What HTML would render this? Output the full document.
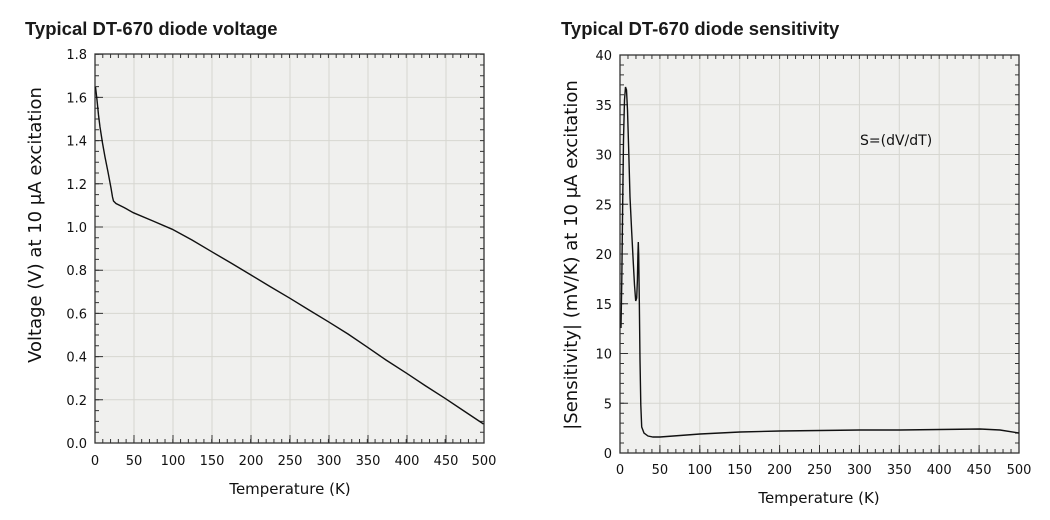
<!DOCTYPE html>
<html><head><meta charset="utf-8"><style>
html,body{margin:0;padding:0;background:#fff;width:1050px;height:520px;overflow:hidden}
svg{display:block}
.t{font-family:"Liberation Sans",Arial,sans-serif;font-weight:bold;font-size:18.5px;fill:#1a1a1a}
.k{font-family:"DejaVu Sans",sans-serif;font-size:13px;fill:#111}
.a{font-family:"DejaVu Sans",sans-serif;font-size:15px;fill:#111}
.y{font-family:"DejaVu Sans",sans-serif;font-size:18px;fill:#111}
</style></head><body>
<svg width="1050" height="520" viewBox="0 0 1050 520">
<text class="t" x="25" y="35">Typical DT-670 diode voltage</text>
<text class="t" x="561" y="35">Typical DT-670 diode sensitivity</text>

<!-- LEFT -->
<rect x="95" y="54" width="389" height="389" fill="#f0f0ee"/>
<g stroke="#d6d6d0" stroke-width="1">
<path d="M134 54V443M173 54V443M212 54V443M251 54V443M290 54V443M329 54V443M368 54V443M407 54V443M446 54V443"/>
<path d="M95 399.8H484M95 356.6H484M95 313.4H484M95 270.2H484M95 227H484M95 183.8H484M95 140.6H484M95 97.4H484"/>
</g>
<g stroke="#333" fill="none">
<line x1="95" y1="441" x2="484" y2="441" stroke-width="4" stroke-dasharray="1 6.78" stroke-dashoffset="0.5"/>
<line x1="95" y1="56" x2="484" y2="56" stroke-width="4" stroke-dasharray="1 6.78" stroke-dashoffset="0.5"/>
<line x1="97" y1="443" x2="97" y2="54" stroke-width="4" stroke-dasharray="1 9.8" stroke-dashoffset="0.5"/>
<line x1="482" y1="443" x2="482" y2="54" stroke-width="4" stroke-dasharray="1 9.8" stroke-dashoffset="0.5"/>
<line x1="95" y1="439" x2="484" y2="439" stroke-width="8" stroke-dasharray="1 38" stroke-dashoffset="0.5"/>
<line x1="99" y1="443" x2="99" y2="54" stroke-width="8" stroke-dasharray="1 42.2" stroke-dashoffset="0.5"/>
<rect x="95" y="54" width="389" height="389" stroke-width="1.3"/>
</g>
<polyline fill="none" stroke="#111" stroke-width="1.4" points="95.5,87 97,100 98.5,115 100,127 102.5,143 105,157 108,172 111,188 112.5,197 113.5,201 116,203.5 124,207.5 133.3,212.7 153,221 172.3,229.3 192,240 211.7,251.7 231,263 251,275 270,286.5 290,298.3 309,310 328.3,321.7 348,334 366.7,346.7 386,360 406.7,373.3 425,385.5 445,398.3 464,411 483.5,424"/>
<g class="k" text-anchor="end">
<text x="87" y="448">0.0</text><text x="87" y="404.8">0.2</text><text x="87" y="361.6">0.4</text><text x="87" y="318.4">0.6</text><text x="87" y="275.2">0.8</text><text x="87" y="232">1.0</text><text x="87" y="188.8">1.2</text><text x="87" y="145.6">1.4</text><text x="87" y="102.4">1.6</text><text x="87" y="59.2">1.8</text>
</g>
<g class="k" text-anchor="middle">
<text x="95" y="465">0</text><text x="134" y="465">50</text><text x="173" y="465">100</text><text x="212" y="465">150</text><text x="251" y="465">200</text><text x="290" y="465">250</text><text x="329" y="465">300</text><text x="368" y="465">350</text><text x="407" y="465">400</text><text x="446" y="465">450</text><text x="484" y="465">500</text>
</g>
<text class="a" x="290" y="494" text-anchor="middle">Temperature (K)</text>
<text class="y" transform="translate(41,225) rotate(-90)" text-anchor="middle">Voltage (V) at 10 μA excitation</text>

<!-- RIGHT -->
<rect x="620" y="55" width="399" height="398" fill="#f0f0ee"/>
<g stroke="#d6d6d0" stroke-width="1">
<path d="M659.9 55V453M699.8 55V453M739.7 55V453M779.6 55V453M819.5 55V453M859.4 55V453M899.3 55V453M939.2 55V453M979.1 55V453"/>
<path d="M620 403.25H1019M620 353.5H1019M620 303.75H1019M620 254H1019M620 204.25H1019M620 154.5H1019M620 104.75H1019"/>
</g>
<g stroke="#333" fill="none">
<line x1="620" y1="451" x2="1019" y2="451" stroke-width="4" stroke-dasharray="1 6.98" stroke-dashoffset="0.5"/>
<line x1="620" y1="57" x2="1019" y2="57" stroke-width="4" stroke-dasharray="1 6.98" stroke-dashoffset="0.5"/>
<line x1="622" y1="453" x2="622" y2="55" stroke-width="4" stroke-dasharray="1 8.95" stroke-dashoffset="0.5"/>
<line x1="1017" y1="453" x2="1017" y2="55" stroke-width="4" stroke-dasharray="1 8.95" stroke-dashoffset="0.5"/>
<line x1="620" y1="449" x2="1019" y2="449" stroke-width="8" stroke-dasharray="1 38.9" stroke-dashoffset="0.5"/>
<line x1="624" y1="453" x2="624" y2="55" stroke-width="8" stroke-dasharray="1 48.75" stroke-dashoffset="0.5"/>
<rect x="620" y="55" width="399" height="398" stroke-width="1.3"/>
</g>
<polyline fill="none" stroke="#111" stroke-width="1.4" points="621,328 621.8,280 622.6,210 623.5,140 624.5,100 625.5,87 626.5,90 627.5,110 628.7,150 630,197 631.7,232 633.3,263 634.5,285 635.7,301 636.7,298 637.4,280 637.9,255 638.3,242 638.7,255 639.3,300 640,360 640.8,405 641.7,427 644,433 648,436 653,437 660,437 700,434 740,432 780,431 820,430.5 860,430 900,430 940,429.5 980,429 1000,430 1019,433"/>
<g class="k" text-anchor="end">
<text x="612" y="458">0</text><text x="612" y="408.25">5</text><text x="612" y="358.5">10</text><text x="612" y="308.75">15</text><text x="612" y="259">20</text><text x="612" y="209.25">25</text><text x="612" y="159.5">30</text><text x="612" y="109.75">35</text><text x="612" y="60">40</text>
</g>
<g class="k" text-anchor="middle">
<text x="620" y="474">0</text><text x="659.9" y="474">50</text><text x="699.8" y="474">100</text><text x="739.7" y="474">150</text><text x="779.6" y="474">200</text><text x="819.5" y="474">250</text><text x="859.4" y="474">300</text><text x="899.3" y="474">350</text><text x="939.2" y="474">400</text><text x="979.1" y="474">450</text><text x="1019" y="474">500</text>
</g>
<text class="a" x="819" y="503" text-anchor="middle">Temperature (K)</text>
<text class="y" transform="translate(577,255) rotate(-90)" text-anchor="middle">|Sensitivity| (mV/K) at 10 μA excitation</text>
<text class="k" x="860" y="145" style="font-size:14px">S=(dV/dT)</text>
</svg>
</body></html>
